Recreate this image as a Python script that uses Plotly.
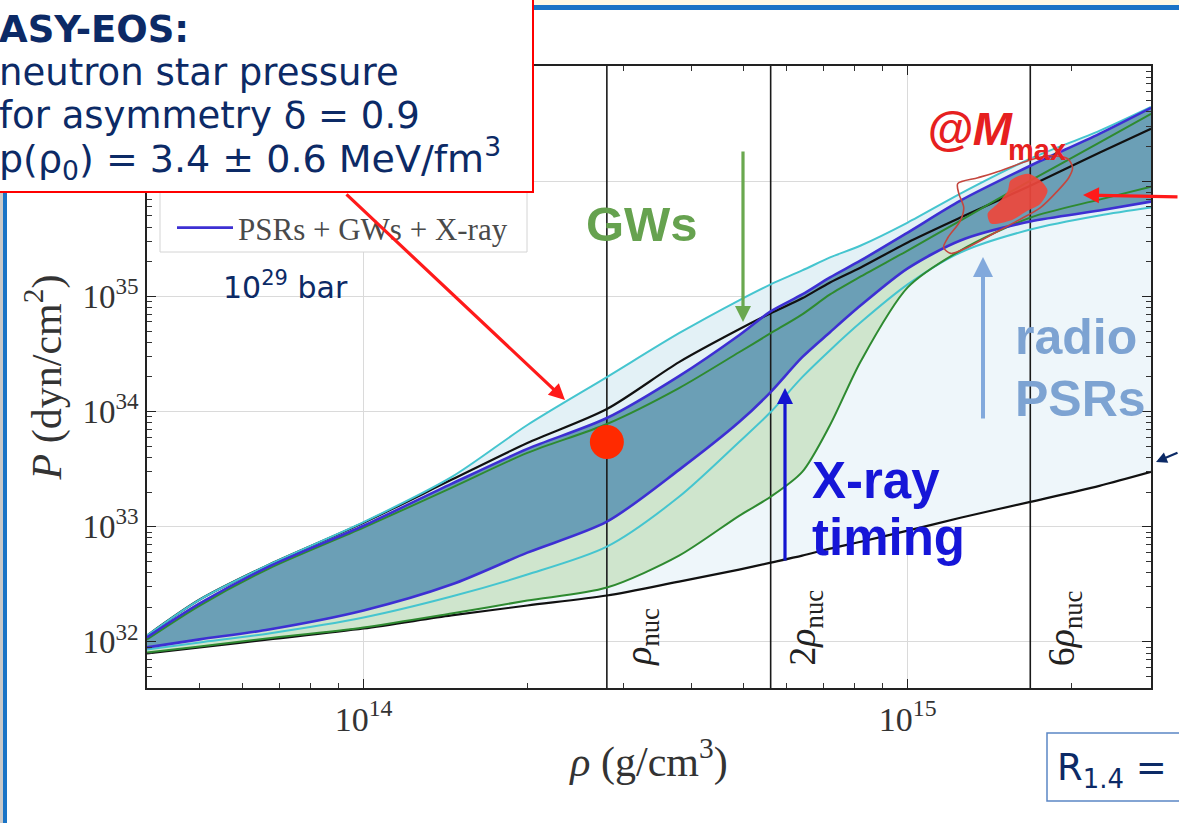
import math
import plotly.graph_objects as go

# ---------------------------------------------------------------------------
# Equation-of-state bands: log10 of pressure (dyn/cm^2) on a common density grid
# ---------------------------------------------------------------------------
rho = [4.0e13, 5.0e13, 6.7e13, 1.0e14, 1.45e14, 2.0e14, 2.8e14, 3.8e14, 4.9e14,
       5.6e14, 6.4e14, 7.2e14, 8.2e14, 1.0e15, 1.25e15, 1.68e15, 2.25e15, 2.8e15]

logp_prior_upper = [32.056, 32.368, 32.671, 33.035, 33.407, 33.727, 34.022, 34.429, 34.714,
                    34.853, 34.983, 35.121, 35.251, 35.468, 35.684, 35.961, 36.247, 36.455]
logp_prior_lower = [31.901, 31.953, 32.022, 32.117, 32.230, 32.316, 32.403, 32.524, 32.628,
                    32.688, 32.749, 32.810, 32.870, 32.966, 33.078, 33.216, 33.355, 33.476]
logp_psr_upper = [32.056, 32.368, 32.671, 33.040, 33.430, 33.883, 34.299, 34.680, 34.966,
                  35.104, 35.225, 35.338, 35.442, 35.641, 35.892, 36.195, 36.437, 36.645]
logp_psr_lower = [31.935, 31.996, 32.074, 32.212, 32.394, 32.585, 32.827, 33.260, 33.736,
                  33.996, 34.299, 34.533, 34.775, 35.104, 35.381, 35.580, 35.702, 35.771]
logp_gw_upper = [32.022, 32.316, 32.637, 32.992, 33.338, 33.641, 33.892, 34.204, 34.515,
                 34.680, 34.844, 35.017, 35.173, 35.398, 35.658, 36.005, 36.334, 36.585]
logp_gw_lower = [31.909, 31.961, 32.031, 32.126, 32.247, 32.359, 32.472, 32.749, 33.095,
                 33.260, 33.476, 33.883, 34.437, 35.078, 35.398, 35.684, 35.840, 35.953]
logp_all_upper = [32.039, 32.334, 32.654, 33.009, 33.372, 33.676, 33.944, 34.308, 34.663,
                  34.870, 35.017, 35.165, 35.312, 35.554, 35.831, 36.134, 36.411, 36.637]
logp_all_lower = [31.953, 32.022, 32.108, 32.273, 32.498, 32.775, 33.044, 33.494, 33.909,
                  34.169, 34.472, 34.689, 34.922, 35.243, 35.485, 35.650, 35.745, 35.823]

# Central pressure region at the maximum mass (log10 rho, log10 P)
mmax_contour_logrho = [15.092, 15.129, 15.171, 15.221, 15.257, 15.294, 15.303, 15.296, 15.276,
                       15.244, 15.202, 15.158, 15.110, 15.079, 15.066, 15.074, 15.097, 15.103,
                       15.094, 15.092]
mmax_contour_logp = [35.979, 36.030, 36.091, 36.178, 36.221, 36.195, 36.117, 36.030, 35.918,
                     35.771, 35.658, 35.546, 35.425, 35.373, 35.425, 35.511, 35.658, 35.771,
                     35.892, 35.979]
mmax_core_logrho = [15.189, 15.221, 15.244, 15.257, 15.244, 15.221, 15.189, 15.153, 15.147,
                    15.165, 15.184, 15.189]
mmax_core_logp = [36.005, 36.065, 36.005, 35.918, 35.805, 35.745, 35.658, 35.632, 35.719,
                  35.805, 35.918, 36.005]

# Nuclear saturation density and reference multiples
rho_nuc = 2.8e14
rho_multiples = [1, 2, 6]
rho_labels = ["<i>ρ</i><sub>nuc</sub>", "2<i>ρ</i><sub>nuc</sub>", "6<i>ρ</i><sub>nuc</sub>"]

# ASY-EOS constraint at saturation density
p0_mev_fm3 = 3.4
MEV_FM3_IN_DYN_CM2 = 1.602e33

# Axes
x_range = [math.log10(4.0e13), math.log10(2.8e15)]
y_range = [31.6, 37.0]
x_tick_exps = [14, 15]
y_tick_exps = [32, 33, 34, 35, 36]

# ---------------------------------------------------------------------------
W, H = 1179, 823
L, R, T, B = 147, 1151, 66, 688


def px(x):
    return (x - L) / (R - L)


def py(y):
    return (B - y) / (B - T)


def pvals(logs):
    return [10.0 ** v for v in logs]


fig = go.Figure()

SPLINE = dict(shape="spline", smoothing=0.8)

# Filled bands
bands = [
    (logp_prior_lower, logp_prior_upper, "#eef6fa"),
    (logp_psr_lower, logp_psr_upper, "#e3f1f6"),
    (logp_gw_lower, logp_gw_upper, "#cfe5cd"),
    (logp_all_lower, logp_all_upper, "#6b9fb6"),
]
for lo, hi, col in bands:
    fig.add_trace(go.Scatter(x=rho, y=pvals(lo), mode="lines", line=dict(width=0, **SPLINE),
                             showlegend=False, hoverinfo="skip"))
    fig.add_trace(go.Scatter(x=rho, y=pvals(hi), mode="lines", line=dict(width=0, **SPLINE),
                             fill="tonexty", fillcolor=col, showlegend=False, hoverinfo="skip"))

# Density markers
for m in rho_multiples:
    fig.add_trace(go.Scatter(x=[m * rho_nuc, m * rho_nuc],
                             y=[10.0 ** y_range[0], 10.0 ** y_range[1]],
                             mode="lines", line=dict(color="#1a1a1a", width=1.6),
                             showlegend=False, hoverinfo="skip"))

# Band edges
edges = [
    (logp_prior_upper, "#111111", 2.2, None),
    (logp_prior_lower, "#111111", 2.2, None),
    (logp_psr_upper, "#45c5cf", 2.0, None),
    (logp_psr_lower, "#45c5cf", 2.0, None),
    (logp_gw_upper, "#2e8a30", 2.0, None),
    (logp_gw_lower, "#2e8a30", 2.0, None),
    (logp_all_lower, "#3d2fd3", 2.6, None),
    (logp_all_upper, "#3d2fd3", 2.6, "PSRs + GWs + X-ray"),
]
for logs, col, w, name in edges:
    fig.add_trace(go.Scatter(x=rho, y=pvals(logs), mode="lines",
                             line=dict(color=col, width=w, **SPLINE),
                             name=name, showlegend=name is not None, hoverinfo="skip"))

# Maximum-mass region
fig.add_trace(go.Scatter(x=pvals(mmax_core_logrho), y=pvals(mmax_core_logp), mode="lines",
                         fill="toself", fillcolor="rgba(238,70,60,0.92)",
                         line=dict(width=0, **SPLINE), showlegend=False, hoverinfo="skip"))
fig.add_trace(go.Scatter(x=pvals(mmax_contour_logrho), y=pvals(mmax_contour_logp), mode="lines",
                         line=dict(color="#c4463e", width=1.6, **SPLINE),
                         showlegend=False, hoverinfo="skip"))

# ASY-EOS point
fig.add_trace(go.Scatter(x=[rho_nuc], y=[p0_mev_fm3 * MEV_FM3_IN_DYN_CM2], mode="markers",
                         marker=dict(size=34, color="#ff2a00", line=dict(width=0)),
                         showlegend=False, hoverinfo="skip"))

# ---------------------------------------------------------------------------
serif = "Liberation Serif"
axis_common = dict(
    type="log", ticks="inside", ticklen=9, tickwidth=1.4, tickcolor="#222",
    showline=True, linecolor="#222", linewidth=1.6, mirror="allticks",
    showgrid=True, gridcolor="#dadada", gridwidth=1, zeroline=False,
)

x_minor = [k * 10.0 ** e for e in range(13, 16) for k in range(2, 10)]
y_minor = [k * 10.0 ** e for e in range(31, 37) for k in range(2, 10)]

fig.update_layout(
    width=W, height=H,
    margin=dict(l=L, r=W - R, t=T, b=H - B),
    paper_bgcolor="white", plot_bgcolor="white",
    hovermode=False,
    xaxis=dict(
        range=x_range, tickmode="array",
        tickvals=[10.0 ** e for e in x_tick_exps],
        ticktext=[f"10<sup>{e}</sup>" for e in x_tick_exps],
        tickfont=dict(family=serif, size=34, color="#333"),
        minor=dict(tickvals=x_minor, ticks="inside", ticklen=5, tickwidth=1, tickcolor="#333",
                   showgrid=False),
        title=dict(text="<i>ρ</i> (g/cm<sup>3</sup>)",
                   font=dict(family=serif, size=42, color="#333"), standoff=10),
        **axis_common,
    ),
    yaxis=dict(
        range=y_range, tickmode="array",
        tickvals=[10.0 ** e for e in y_tick_exps],
        ticktext=[f"10<sup>{e}</sup>" for e in y_tick_exps],
        tickfont=dict(family=serif, size=33, color="#333"),
        minor=dict(tickvals=y_minor, ticks="inside", ticklen=5, tickwidth=1, tickcolor="#333",
                   showgrid=False),
        title=dict(text="<i>P</i> (dyn/cm<sup>2</sup>)",
                   font=dict(family=serif, size=42, color="#333"), standoff=8),
        **axis_common,
    ),
    legend=dict(x=px(172), xanchor="left", y=py(228), yanchor="middle",
                bgcolor="rgba(0,0,0,0)", borderwidth=0, itemwidth=56,
                font=dict(family=serif, size=31, color="#4a4a4a")),
)


def rect(x0, y0, x1, y1, fill, line_color=None, line_width=0):
    fig.add_shape(type="rect", xref="paper", yref="paper",
                  x0=px(x0), x1=px(x1), y0=py(y1), y1=py(y0),
                  fillcolor=fill, layer="above",
                  line=dict(color=line_color or fill, width=line_width))


# Slide frame
rect(533, -2, 1185, 5, "#fdfae6")
rect(533, 5, 1185, 10, "#1a74c6")
rect(-2, 190, 3, 830, "#c9c9c9")
rect(3, 190, 7, 830, "#1a74c6")

# Legend frame
rect(160, 150, 527, 252, "white", "#d4d4d4", 1)

# ASY-EOS box
rect(-6, -6, 533, 192, "white", "#ff0000", 2)

# R_1.4 box
rect(1047, 733, 1192, 801, "white", "#5b86c5", 1.5)

navy = "#0c2a66"


def label(text, x, y, size, color, family="DejaVu Sans", xanchor="left", yanchor="middle",
          angle=0):
    fig.add_annotation(text=text, x=px(x), y=py(y), xref="paper", yref="paper",
                       showarrow=False, xanchor=xanchor, yanchor=yanchor, textangle=angle,
                       font=dict(family=family, size=size, color=color))


def arrow(head, tail, color, width, size=1.0):
    fig.add_annotation(x=px(head[0]), y=py(head[1]), xref="paper", yref="paper",
                       ax=tail[0] - head[0], ay=tail[1] - head[1], axref="pixel", ayref="pixel",
                       text="", showarrow=True, arrowhead=2, arrowsize=size,
                       arrowwidth=width, arrowcolor=color, standoff=0, startstandoff=0)


# ASY-EOS text
label("<b>ASY-EOS:</b>", -3, 30, 37, navy)
label("neutron star pressure", -3, 72, 37, navy)
label("for asymmetry δ = 0.9", -3, 115, 37, navy)
label("p(ρ<sub>0</sub>) = 3.4 ± 0.6 MeV/fm<sup>3</sup>", -3, 159, 38, navy)
label("10<sup>29</sup> bar", 221, 285, 30, navy)
arrow((565, 400), (345, 193), "#ff1a1a", 3.2)

# Density labels
for m, txt in zip(rho_multiples, rho_labels):
    fig.add_annotation(text=txt, x=math.log10(m * rho_nuc), y=py(668), xref="x", yref="paper",
                       xshift=34, showarrow=False, xanchor="center", yanchor="bottom",
                       textangle=-90, font=dict(family=serif, size=38, color="#222"))

# Observational constraints
label("<b>GWs</b>", 584, 224, 49, "#66a24f", family="Liberation Sans")
arrow((743, 322), (743, 150), "#6aa84f", 3.2)

label("<b>X-ray</b>", 810, 480, 51, "#1616d8", family="Liberation Sans")
label("<b>timing</b>", 810, 537, 51, "#1616d8", family="Liberation Sans")
arrow((785, 388), (785, 562), "#1414d0", 3.2)

label("<b>radio</b>", 1013, 337, 50, "#7da3d2", family="Liberation Sans")
label("<b>PSRs</b>", 1013, 399, 50, "#7da3d2", family="Liberation Sans")
arrow((983, 257), (983, 420), "#82a9dc", 4)

label("<b><i>@M</i></b>", 925, 128, 47, "#e62020", family="Liberation Sans")
label("<b>max</b>", 1006, 150, 29, "#e62020", family="Liberation Sans")
arrow((1083, 195), (1185, 197), "#ff1a1a", 3.2)

arrow((1156, 462), (1185, 452), navy, 2.2)

label("R<sub>1.4</sub> =", 1055, 770, 37, navy)

fig.write_html("out.html")
